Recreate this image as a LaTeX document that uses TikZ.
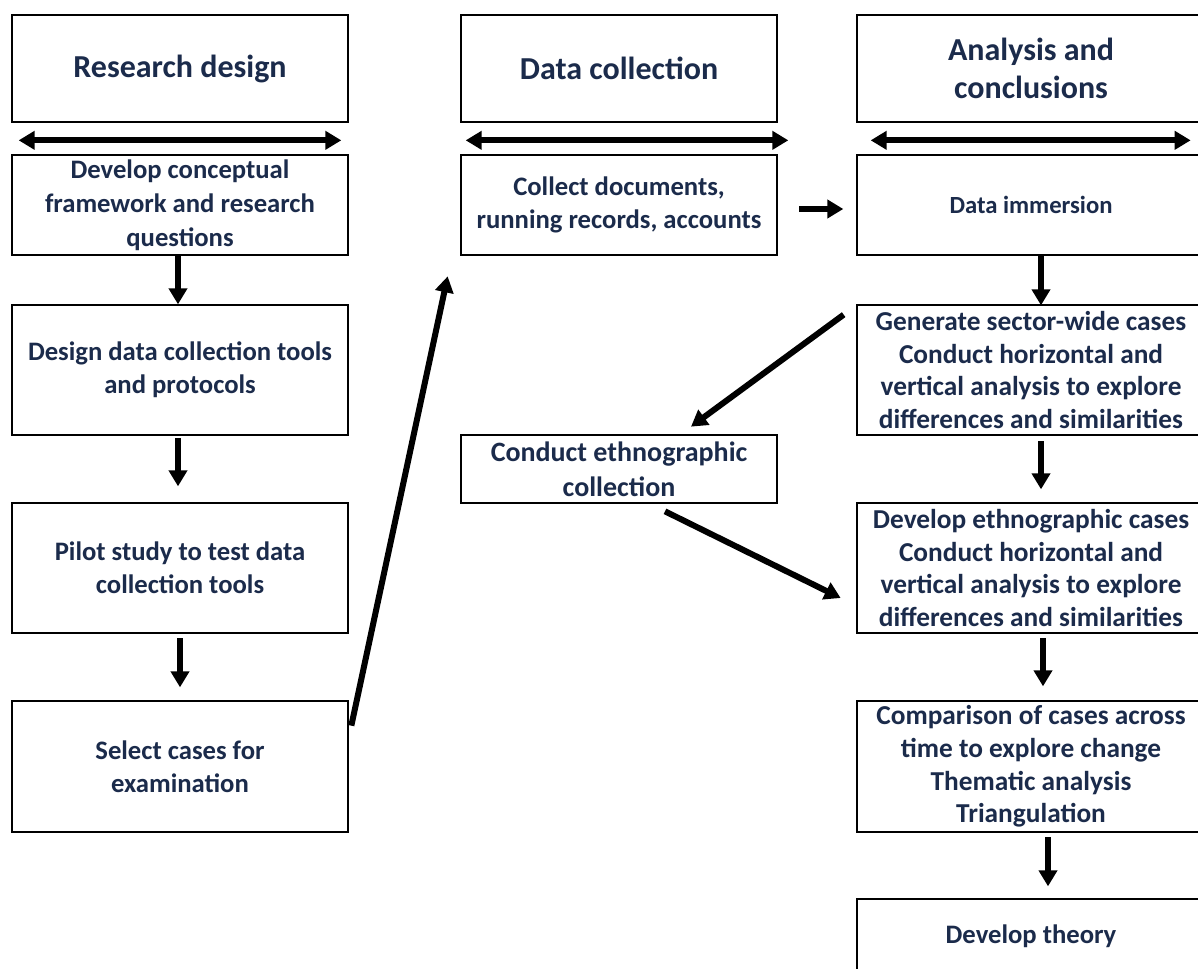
\documentclass[tikz,border=0pt]{standalone}
\usepackage{fontspec}
\setmainfont{Carlito}
\usetikzlibrary{arrows.meta,calc}
\definecolor{ink}{HTML}{1B2B4B}
\begin{document}
\begin{tikzpicture}[
  x=0.75pt, y=-0.75pt,
  box/.style={draw=black, line width=2pt, inner sep=0pt, align=center, text=ink,
    font=\fontsize{20}{25}\selectfont\bfseries},
  big/.style={font=\fontsize{20.5}{24.5}\selectfont\bfseries},
  head/.style={box, font=\fontsize{24}{28.5}\selectfont\bfseries, minimum height=80.25pt},
  lcol/.style={minimum width=252pt},
  mcol/.style={minimum width=237pt},
  rcol/.style={minimum width=261pt},
  arr/.style={line width=4.5pt, -{Triangle[length=12pt,width=13.5pt]}},
  biarr/.style={line width=4.5pt, {Triangle[length=12pt,width=13.5pt]}-{Triangle[length=12pt,width=13.5pt]}}
]
\fill[white] (0,0) rectangle (1198,969);
\useasboundingbox (0,0) rectangle (1198,969);

% column 1: research design
\node[head, lcol] (rd) at (180,68.5) {Research design};
\node[box, lcol, minimum height=75pt, font=\fontsize{20}{25.5}\selectfont\bfseries] (l1) at (180,205) {Develop conceptual\\framework and research\\questions};
\node[box, lcol, minimum height=97.5pt] (l2) at (180,370) {Design data collection tools\\and protocols};
\node[box, lcol, minimum height=97.5pt] (l3) at (180,568) {Pilot study to test data\\collection tools};
\node[box, lcol, minimum height=98.25pt] (l4) at (180,766.5) {Select cases for\\examination};

% column 2: data collection
\node[head, mcol] (dc) at (619,68.5) {Data collection};
\node[box, mcol, minimum height=75pt] (m1) at (619,205) {Collect documents,\\running records, accounts};
\node[box, mcol, minimum height=51pt, font=\fontsize{21}{26}\selectfont\bfseries] (m2) at (619,469) {Conduct ethnographic\\collection};

% column 3: analysis and conclusions
\node[head, rcol] (ac) at (1031,68.5) {Analysis and\\conclusions};
\node[box, rcol, minimum height=75pt, font=\fontsize{18.5}{24}\selectfont\bfseries] (r1) at (1031,205) {Data immersion};
\node[box, big, rcol, minimum height=97.5pt] (r2) at (1031,370) {Generate sector-wide cases\\Conduct horizontal and\\vertical analysis to explore\\differences and similarities};
\node[box, big, rcol, minimum height=97.5pt] (r3) at (1031,568) {Develop ethnographic cases\\Conduct horizontal and\\vertical analysis to explore\\differences and similarities};
\node[box, big, rcol, minimum height=98.25pt] (r4) at (1031,766.5) {Comparison of cases across\\time to explore change\\Thematic analysis\\Triangulation};
\node[box, rcol, minimum height=55.5pt] (r5) at (1031,936) {Develop theory};

% double-headed arrows under the column headings
\coordinate (ha1) at ($(rd.south west)+(8,17)$);
\coordinate (hb1) at ($(rd.south east)+(-8,17)$);
\coordinate (ha2) at ($(dc.south west)+(6,17)$);
\coordinate (hb2) at ($(dc.south east)+(10,17)$);
\coordinate (ha3) at ($(ac.south west)+(15,17)$);
\coordinate (hb3) at ($(ac.south west)+(335,17)$);
\draw[biarr] (ha1) -- (hb1);
\draw[biarr] (ha2) -- (hb2);
\draw[biarr] (ha3) -- (hb3);

% column 1 flow
\draw[arr] ($(l1.south)+(-2,0)$) -- ++(0,48);
\draw[arr] ($(l2.south)+(-2,2)$) -- ++(0,48);
\draw[arr] ($(l3.south)+(0,4)$) -- ++(0,49);

% across to data collection
\coordinate (s1) at ($(l4.north east)+(2,26)$);
\coordinate (t1) at ($(m1.south west)+(-12,20)$);
\draw[arr] (s1) -- (t1);
\draw[arr] ($(m1.east)+(21,4)$) -- ++(44,0);

% column 3 flow
\draw[arr] ($(r1.south)+(10,0)$) -- ++(0,49);
\draw[arr] ($(r2.south)+(10,5)$) -- ++(0,48);
\draw[arr] ($(r3.south)+(12,4)$) -- ++(0,48);
\draw[arr] ($(r4.south)+(17,4)$) -- ++(0,49);

% ethnographic loop
\coordinate (s2) at ($(r2.north west)+(-12,11)$);
\coordinate (t2) at ($(m2.north)+(72,-7)$);
\draw[arr] (s2) -- (t2);
\coordinate (s3) at ($(m2.south)+(46,7)$);
\coordinate (t3) at ($(r3.west)+(-15,30)$);
\draw[arr] (s3) -- (t3);
\end{tikzpicture}
\end{document}
